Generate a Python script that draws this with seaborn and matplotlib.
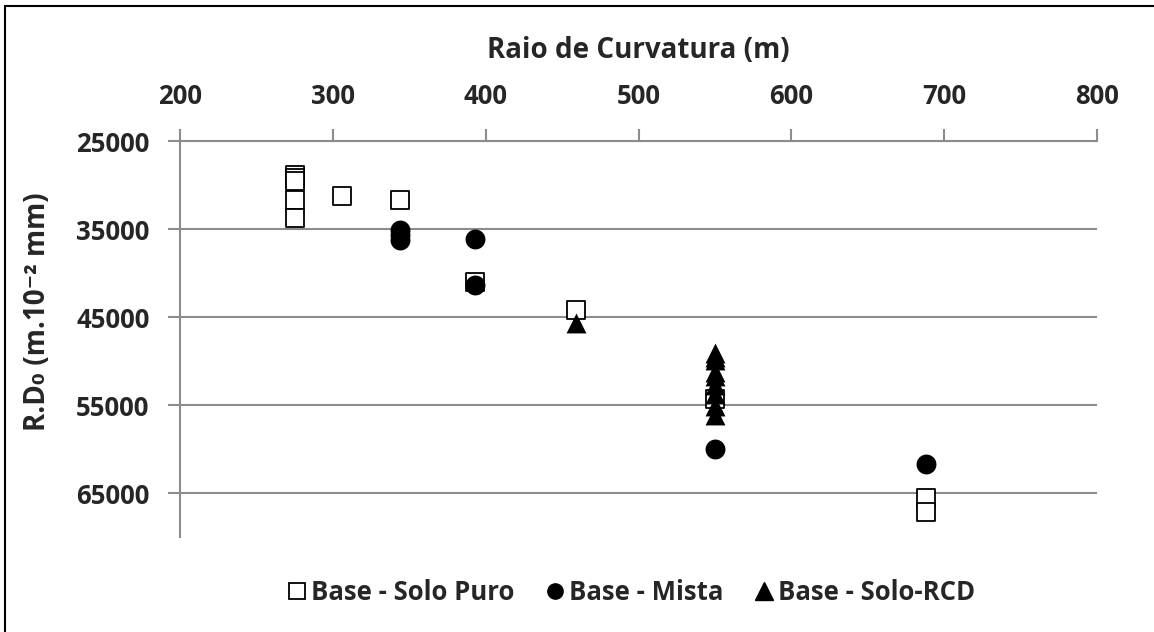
import numpy as np
import pandas as pd
import matplotlib
matplotlib.use("Agg")
import matplotlib.pyplot as plt
from matplotlib.lines import Line2D
from matplotlib.patches import Rectangle
import seaborn as sns

# data
raio_puro = [275, 275, 275, 275, 275, 306, 344, 393, 459, 550, 688, 688]
rd0_puro = [28900, 29200, 29600, 31700, 33700, 31200, 31700, 41000, 44200, 54300, 65600, 67200]

raio_mista = [344, 344, 344, 393, 393, 550, 688]
rd0_mista = [35100, 35700, 36250, 36100, 41400, 60000, 61700]

raio_rcd = [459, 550, 550, 550, 550, 550, 550, 550, 550, 550]
rd0_rcd = [45700, 49100, 49600, 49900, 51200, 51700, 52700, 53800, 55100, 56100]

x_ticks = [200, 300, 400, 500, 600, 700, 800]
y_ticks = [25000, 35000, 45000, 55000, 65000]

sns.set_theme(style="white")
plt.rcParams['font.family'] = ['Open Sans', 'DejaVu Sans']
plt.rcParams['font.weight'] = 'bold'

fig = plt.figure(figsize=(11.54, 6.32), dpi=100)
ax = fig.add_axes([180 / 1154, 1 - 537 / 632, 917 / 1154, 396 / 632])

grid_col = '#8c8c8c'

# draw order: squares first, then circles, then triangles
sns.scatterplot(x=raio_puro, y=rd0_puro, marker='s', s=185, color='white',
                edgecolor='black', linewidth=1.3, ax=ax, zorder=3)
sns.scatterplot(x=raio_mista, y=rd0_mista, marker='o', s=205, color='black',
                edgecolor='black', linewidth=0, ax=ax, zorder=4)
sns.scatterplot(x=raio_rcd, y=rd0_rcd, marker='^', s=205, color='black',
                edgecolor='black', linewidth=0, ax=ax, zorder=5)

ax.set_xlim(200, 800)
ax.set_ylim(70000, 25000)
ax.set_xticks(x_ticks)
ax.set_yticks(y_ticks)

ax.xaxis.tick_top()
ax.xaxis.set_label_position('top')
ax.set_xlabel('Raio de Curvatura (m)', fontsize=20, fontweight='bold', labelpad=18)
ax.set_ylabel('R.D₀ (m.10⁻² mm)', fontsize=20, fontweight='bold')
ax.yaxis.set_label_coords(-0.14, 0.57)

for sp in ['right', 'bottom']:
    ax.spines[sp].set_visible(False)
for sp in ['top', 'left']:
    ax.spines[sp].set_color(grid_col)
    ax.spines[sp].set_linewidth(1.5)

ax.tick_params(axis='both', which='major', length=9, width=1.5, color=grid_col,
               labelsize=18.5, direction='out')
ax.tick_params(axis='x', top=True, bottom=False, pad=13)
ax.tick_params(axis='y', left=True, pad=13)
for lab in ax.get_xticklabels() + ax.get_yticklabels():
    lab.set_fontweight('bold')

ax.yaxis.grid(True, color=grid_col, linewidth=1.5)
ax.xaxis.grid(False)
ax.set_axisbelow(True)

handles = [
    Line2D([], [], marker='s', linestyle='none', markersize=12, markerfacecolor='white',
           markeredgecolor='black', markeredgewidth=1.3, label='Base - Solo Puro'),
    Line2D([], [], marker='o', linestyle='none', markersize=11, markerfacecolor='black',
           markeredgecolor='black', label='Base - Mista'),
    Line2D([], [], marker='^', linestyle='none', markersize=13, markerfacecolor='black',
           markeredgecolor='black', label='Base - Solo-RCD'),
]
leg = fig.legend(handles=handles, loc='center', bbox_to_anchor=(632 / 1154, 1 - 592 / 632),
                 ncol=3, frameon=False, prop={'size': 18.5, 'weight': 'bold'},
                 handletextpad=0.22, columnspacing=1.25, handlelength=0.65)

# outer chart border (only left and top edges visible in the reference)
fig.patches.append(Rectangle((5 / 1154, -0.1), 1.2, 1.1 - 6 / 632, transform=fig.transFigure,
                             fill=False, edgecolor='black', linewidth=1.5))

fig.savefig('out.png', dpi=100)
